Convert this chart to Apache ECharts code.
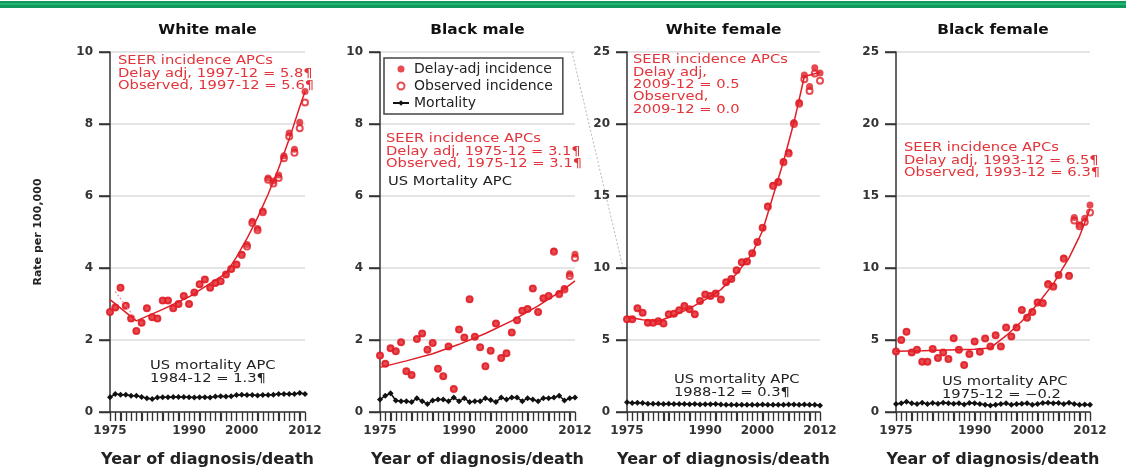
<!DOCTYPE html>
<html>
<head>
<meta charset="utf-8">
<script src="https://cdn.jsdelivr.net/npm/echarts@6/dist/echarts.min.js"></script>
<style>
  html, body { margin: 0; padding: 0; background: #fff; }
  #chart { width: 1126px; height: 473px; }
</style>
</head>
<body>
<div id="chart"></div>
<script>
// years 1975..2012
const years = [];
for (let y = 1975; y <= 2012; y++) years.push(y);

const panelTitles = ['White male', 'Black male', 'White female', 'Black female'];
const yMax = [10, 10, 25, 25];
const yStep = [2, 2, 5, 5];
const shownYears = [1975, 1990, 2000, 2012];

// White male
const wmDelay = [2.78, 2.9, 3.45, 2.95, 2.6, 2.25, 2.48, 2.88, 2.63, 2.6, 3.1, 3.1, 2.88, 3.0, 3.22, 3.0, 3.32, 3.55, 3.68, 3.45,
  3.58, 3.63, 3.82, 3.97, 4.1, 4.38, 4.65, 5.3, 5.1, 5.58, 6.5, 6.42, 6.58, 7.12, 7.75, 7.3, 8.05, 8.9];
const wmObserved = [2.78, 2.9, 3.45, 2.95, 2.6, 2.25, 2.48, 2.88, 2.63, 2.6, 3.1, 3.1, 2.88, 3.0, 3.22, 3.0, 3.32, 3.55, 3.68, 3.45,
  3.58, 3.63, 3.82, 3.97, 4.1, 4.36, 4.6, 5.25, 5.05, 5.55, 6.45, 6.35, 6.5, 7.05, 7.65, 7.2, 7.88, 8.6];
const wmMort = [0.41, 0.5, 0.48, 0.48, 0.45, 0.45, 0.42, 0.38, 0.36, 0.4, 0.41, 0.41, 0.42, 0.42, 0.42, 0.41, 0.4, 0.41, 0.41, 0.4,
  0.43, 0.44, 0.43, 0.44, 0.47, 0.48, 0.47, 0.47, 0.46, 0.47, 0.47, 0.48, 0.5, 0.5, 0.5, 0.5, 0.53, 0.5];
const wmTrendYears = [1975, 1980, 1985, 1990, 1997, 1999, 2001, 2003, 2005, 2007, 2009, 2011, 2012];
const wmTrend = [3.12, 2.53, 2.85, 3.2, 3.85, 4.3, 4.82, 5.4, 6.05, 6.77, 7.58, 8.48, 8.9];
const wmObsTrendYears = [1976, 1980];
const wmObsTrend = [3.35, 2.55];

// Black male
const bmDelay = [1.57, 1.34, 1.77, 1.69, 1.94, 1.13, 1.03, 2.03, 2.18, 1.73, 1.92, 1.2, 0.99, 1.82, 0.64, 2.29, 2.07, 3.13, 2.09, 1.8,
  1.27, 1.7, 2.46, 1.5, 1.63, 2.21, 2.55, 2.81, 2.86, 3.43, 2.78, 3.16, 3.22, 4.47, 3.29, 3.43, 3.84, 4.38];
const bmObserved = [1.57, 1.34, 1.77, 1.69, 1.94, 1.13, 1.03, 2.03, 2.18, 1.73, 1.92, 1.2, 0.99, 1.82, 0.64, 2.29, 2.07, 3.13, 2.09, 1.8,
  1.27, 1.7, 2.46, 1.5, 1.63, 2.21, 2.55, 2.81, 2.86, 3.43, 2.78, 3.16, 3.22, 4.45, 3.27, 3.4, 3.78, 4.28];
const bmMort = [0.35, 0.45, 0.52, 0.32, 0.3, 0.3, 0.28, 0.38, 0.3, 0.22, 0.32, 0.35, 0.35, 0.3, 0.4, 0.3, 0.38, 0.28, 0.3, 0.3,
  0.38, 0.33, 0.28, 0.4, 0.35, 0.4, 0.4, 0.3, 0.38, 0.35, 0.3, 0.38, 0.38, 0.4, 0.45, 0.32, 0.38, 0.4];
const bmTrendYears = [1975, 1980, 1985, 1990, 1995, 2000, 2005, 2010, 2012];
const bmTrend = [1.24, 1.42, 1.62, 1.88, 2.18, 2.53, 2.95, 3.42, 3.64];

// White female
const wfDelay = [6.44, 6.44, 7.2, 6.9, 6.2, 6.2, 6.3, 6.14, 6.78, 6.83, 7.06, 7.36, 7.13, 6.78, 7.7, 8.16, 8.05, 8.23, 7.82, 9.01,
  9.24, 9.84, 10.4, 10.46, 11.03, 11.8, 12.8, 14.3, 15.74, 16.0, 17.4, 18.04, 20.1, 21.5, 23.4, 22.6, 23.9, 23.55];
const wfObserved = [6.44, 6.44, 7.2, 6.9, 6.2, 6.2, 6.3, 6.14, 6.78, 6.83, 7.06, 7.36, 7.13, 6.78, 7.7, 8.16, 8.05, 8.23, 7.82, 9.01,
  9.24, 9.84, 10.4, 10.46, 11.03, 11.8, 12.8, 14.25, 15.7, 15.95, 17.35, 17.95, 20.0, 21.4, 23.1, 22.3, 23.5, 23.0];
const wfMort = [0.68, 0.62, 0.64, 0.62, 0.58, 0.58, 0.58, 0.56, 0.57, 0.55, 0.56, 0.56, 0.54, 0.55, 0.52, 0.53, 0.54, 0.56, 0.52, 0.5,
  0.5, 0.5, 0.5, 0.5, 0.5, 0.5, 0.52, 0.5, 0.5, 0.5, 0.5, 0.52, 0.52, 0.5, 0.52, 0.5, 0.5, 0.45];
const wfTrendYears = [1975, 1978, 1981, 1984, 1987, 1990, 1993, 1996, 1999, 2001, 2003, 2005, 2007, 2009, 2012];
const wfTrend = [6.6, 6.4, 6.3, 6.7, 7.2, 7.8, 8.5, 9.6, 11.0, 12.6, 15.0, 17.4, 20.1, 23.3, 23.6];

// Black female
const bfDelay = [4.2, 5.0, 5.57, 4.14, 4.32, 3.49, 3.49, 4.37, 3.75, 4.14, 3.68, 5.13, 4.32, 3.26, 4.02, 4.9, 4.18, 5.1, 4.55, 5.33,
  4.55, 5.86, 5.24, 5.86, 7.08, 6.55, 6.94, 7.63, 7.59, 8.92, 8.74, 9.54, 10.69, 9.49, 13.5, 13.0, 13.45, 14.37];
const bfObserved = [4.2, 5.0, 5.57, 4.14, 4.32, 3.49, 3.49, 4.37, 3.75, 4.14, 3.68, 5.13, 4.32, 3.26, 4.02, 4.9, 4.18, 5.1, 4.55, 5.33,
  4.55, 5.86, 5.24, 5.86, 7.08, 6.55, 6.94, 7.6, 7.55, 8.85, 8.7, 9.5, 10.65, 9.45, 13.3, 12.9, 13.2, 13.85];
const bfMort = [0.55, 0.6, 0.72, 0.6, 0.55, 0.65, 0.55, 0.62, 0.58, 0.65, 0.6, 0.58, 0.6, 0.52, 0.62, 0.6, 0.55, 0.5, 0.45, 0.5,
  0.55, 0.6, 0.5, 0.55, 0.58, 0.6, 0.5, 0.55, 0.62, 0.65, 0.6, 0.62, 0.55, 0.65, 0.55, 0.5, 0.52, 0.5];
const bfTrendYears = [1975, 1980, 1985, 1990, 1993, 1996, 1999, 2002, 2005, 2008, 2010, 2012];
const bfTrend = [4.22, 4.25, 4.3, 4.35, 4.45, 5.3, 6.3, 7.5, 8.9, 10.7, 12.2, 14.1];

const panels = [
  { delay: wmDelay, observed: wmObserved, mort: wmMort, trendYears: wmTrendYears, trend: wmTrend },
  { delay: bmDelay, observed: bmObserved, mort: bmMort, trendYears: bmTrendYears, trend: bmTrend },
  { delay: wfDelay, observed: wfObserved, mort: wfMort, trendYears: wfTrendYears, trend: wfTrend },
  { delay: bfDelay, observed: bfObserved, mort: bfMort, trendYears: bfTrendYears, trend: bfTrend }
];

const RED = '#e11d26';
const TEXT_RED = '#e2343a';
const AXIS = '#333';
const FONT = '"DejaVu Sans", Verdana, sans-serif';
const pair = (xs, ys) => xs.map((x, i) => [x, ys[i]]);

const grids = [
  { left: 110, top: 52, width: 195, height: 365 },
  { left: 380, top: 52, width: 195, height: 365 },
  { left: 627, top: 52, width: 193, height: 365 },
  { left: 896, top: 52, width: 194, height: 365 }
];

const xAxes = grids.map((g, i) => ({
  type: 'value', gridIndex: i, min: 1975, max: 2012, interval: 1,
  name: 'Year of diagnosis/death', nameLocation: 'middle', nameGap: 40,
  nameTextStyle: { fontFamily: FONT, fontSize: 16, fontWeight: 'bold', color: '#222' },
  axisLine: { show: true, lineStyle: { color: AXIS, width: 1.5 } },
  axisTick: { show: true, length: 9, lineStyle: { color: AXIS, width: 1.2 } },
  axisLabel: {
    margin: 13, fontFamily: FONT, fontSize: 12, fontWeight: 'bold', color: '#333',
    formatter: v => shownYears.indexOf(v) >= 0 ? String(v) : ''
  },
  splitLine: { show: false }
}));

const yAxes = grids.map((g, i) => ({
  type: 'value', gridIndex: i, min: 0, max: yMax[i], interval: yStep[i],
  name: i === 0 ? 'Rate per 100,000' : '', nameLocation: 'middle', nameGap: 66,
  nameTextStyle: { fontFamily: FONT, fontSize: 11, fontWeight: 'bold', color: '#222' },
  axisLine: { show: true, lineStyle: { color: AXIS, width: 1.5 } },
  axisTick: { show: true, length: 11, lineStyle: { color: AXIS, width: 1.5 } },
  axisLabel: { margin: 17, fontFamily: FONT, fontSize: 12, fontWeight: 'bold', color: '#333' },
  splitLine: { lineStyle: { color: '#dcdcdc', width: 1.5 } }
}));

const series = [];
panels.forEach((p, i) => {
  series.push({
    name: 'Observed incidence', type: 'scatter', xAxisIndex: i, yAxisIndex: i,
    symbol: 'emptyCircle', symbolSize: 6,
    itemStyle: { color: RED, borderWidth: 1.3 },
    data: pair(years, p.observed), z: 2
  });
  series.push({
    name: 'Delay-adj incidence', type: 'scatter', xAxisIndex: i, yAxisIndex: i,
    symbol: 'circle', symbolSize: 7,
    itemStyle: { color: RED },
    data: pair(years, p.delay), z: 3
  });
  series.push({
    name: 'trend', type: 'line', xAxisIndex: i, yAxisIndex: i,
    showSymbol: false, silent: true,
    lineStyle: { color: RED, width: 1.5 },
    data: pair(p.trendYears, p.trend), z: 4
  });
  series.push({
    name: 'Mortality', type: 'line', xAxisIndex: i, yAxisIndex: i,
    symbol: 'diamond', symbolSize: 6, showAllSymbol: true,
    itemStyle: { color: '#111' },
    lineStyle: { color: '#111', width: 1.5 },
    data: pair(years, p.mort), z: 3
  });
});
series.push({
  name: 'obs trend', type: 'line', xAxisIndex: 0, yAxisIndex: 0,
  showSymbol: false, silent: true,
  lineStyle: { color: '#f08a8e', width: 1.2, type: [2, 2] },
  data: pair(wmObsTrendYears, wmObsTrend), z: 4
});

const chart = echarts.init(document.getElementById('chart'), null, { renderer: 'canvas' });

chart.setOption({
  animation: false,
  backgroundColor: '#fff',
  grid: grids,
  xAxis: xAxes,
  yAxis: yAxes,
  legend: {
    left: 384, top: 58, orient: 'vertical',
    data: ['Delay-adj incidence', 'Observed incidence', 'Mortality'],
    borderColor: '#444', borderWidth: 1.5, borderRadius: 0,
    padding: [4, 10, 4, 8], itemGap: 3, itemWidth: 16, itemHeight: 7,
    textStyle: { fontFamily: FONT, fontSize: 14, color: '#222' }
  },
  series: series
});

// annotation texts, the source picture is stretched sideways so text is widened too
const STRETCH = 1.28;
const redStyle = { font: '11.5px ' + FONT, fill: TEXT_RED, lineHeight: 12.4 };
const blackStyle = { font: '11.5px ' + FONT, fill: '#222', lineHeight: 12.4 };
const text = (x, y, str, style) => ({
  type: 'text', x: x, y: y, scaleX: STRETCH, silent: true,
  style: Object.assign({ text: str, align: 'left', verticalAlign: 'top' }, style)
});

const graphics = [
  { type: 'rect', shape: { x: 0, y: 1, width: chart.getWidth(), height: 7 }, style: { fill: '#10995b' }, silent: true },
  { type: 'rect', shape: { x: 0, y: 3, width: chart.getWidth(), height: 2 }, style: { fill: '#24b472' }, silent: true }
];

// extra tick marks on top, placed through each axis' own scale, snapped to whole pixels
grids.forEach((g, i) => {
  years.forEach(yr => {
    const p = chart.convertToPixel({ gridIndex: i }, [yr, 0]);
    const x = Math.round(p[0]) + 0.5;
    graphics.push({ type: 'line', silent: true, z: 50,
      shape: { x1: x, y1: p[1] + 1, x2: x, y2: p[1] + 9 },
      style: { stroke: AXIS, lineWidth: 1.2 } });
  });
  for (let v = 0; v <= yMax[i]; v += yStep[i]) {
    const p = chart.convertToPixel({ gridIndex: i }, [1975, v]);
    const y = Math.round(p[1]) + 0.5;
    graphics.push({ type: 'line', silent: true, z: 50,
      shape: { x1: p[0] - 11, y1: y, x2: p[0], y2: y },
      style: { stroke: AXIS, lineWidth: 1.5 } });
  }
});

// panel titles centred over each grid
grids.forEach((g, i) => {
  graphics.push({
    type: 'text', x: g.left + g.width / 2, y: 23, scaleX: 1.1, silent: true,
    style: { text: panelTitles[i], font: 'bold 14px ' + FONT, fill: '#111', align: 'center' }
  });
});

graphics.push(text(118, 55, 'SEER incidence APCs\nDelay adj, 1997-12 = 5.8\u00b6\nObserved, 1997-12 = 5.6\u00b6', redStyle));
graphics.push(text(150, 360, 'US mortality APC\n1984-12 = 1.3\u00b6', blackStyle));
graphics.push(text(386, 133, 'SEER incidence APCs\nDelay adj, 1975-12 = 3.1\u00b6\nObserved, 1975-12 = 3.1\u00b6', redStyle));
graphics.push(text(388, 176, 'US Mortality APC', blackStyle));
graphics.push(text(633, 54, 'SEER incidence APCs\nDelay adj,\n2009-12 = 0.5\nObserved,\n2009-12 = 0.0', redStyle));
graphics.push(text(674, 374, 'US mortality APC\n1988-12 = 0.3\u00b6', blackStyle));
graphics.push(text(904, 142, 'SEER incidence APCs\nDelay adj, 1993-12 = 6.5\u00b6\nObserved, 1993-12 = 6.3\u00b6', redStyle));
graphics.push(text(942, 376, 'US mortality APC\n1975-12 = \u22120.2', blackStyle));

// dotted connector from black male panel to white female panel
const p1 = chart.convertToPixel({ gridIndex: 1 }, [2012, 10]);
const p2 = chart.convertToPixel({ gridIndex: 2 }, [1975, 10]);
graphics.push({
  type: 'line', silent: true,
  shape: { x1: p1[0] - 3, y1: p1[1], x2: p2[0] - 4, y2: p2[1] },
  style: { stroke: '#b8b8b8', lineWidth: 1, lineDash: [2, 2] }
});

chart.setOption({ graphic: graphics });

window.addEventListener('resize', () => chart.resize());
</script>
</body>
</html>
